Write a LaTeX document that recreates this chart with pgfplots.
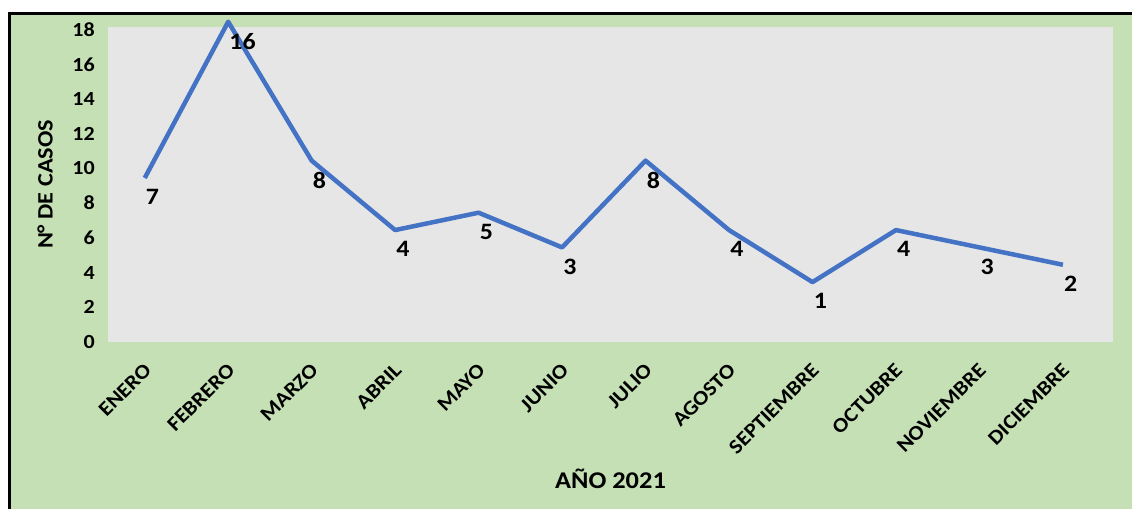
\documentclass[border=0pt]{standalone}
\usepackage{fontspec}
\setmainfont{Carlito}[FakeStretch=1.1]
\usepackage{pgfplots}
\pgfplotsset{compat=1.18}
\definecolor{fondo}{HTML}{C5E0B4}
\definecolor{area}{HTML}{E6E6E6}
\definecolor{linea}{HTML}{4472C4}
\begin{document}
\begin{tikzpicture}
\useasboundingbox (0pt,0pt) rectangle (1132pt,509pt);
\fill[white] (0pt,0pt) rectangle (1132pt,509pt);
\fill[fondo] (9pt,0pt) rectangle (1132pt,495.5pt);
\draw[line width=3pt] (9pt,0pt) -- (9pt,495.5pt) -- (1132pt,495.5pt);
\begin{axis}[
  at={(108pt,167pt)}, anchor=south west,
  scale only axis, width=1005pt, height=315pt,
  xmin=-0.44, xmax=11.6, ymin=0, ymax=18.15,
  axis background/.style={fill=area},
  axis line style={draw=none},
  major tick length=0pt,
  clip=false,
  xtick={0,...,11},
  xticklabels={ENERO,FEBRERO,MARZO,ABRIL,MAYO,JUNIO,JULIO,AGOSTO,SEPTIEMBRE,OCTUBRE,NOVIEMBRE,DICIEMBRE},
  ytick={0,2,...,18},
  /pgf/number format/assume math mode=true,
  yticklabel style={anchor=east, inner sep=0pt, xshift=-13pt, font=\bfseries\fontsize{20}{20}\selectfont},
  xticklabel style={xshift=3pt, yshift=-25pt, rotate=45, anchor=east, inner sep=0pt, font=\bfseries\fontsize{20.5}{20.5}\selectfont},
  xlabel={AÑO 2021},
  ylabel={N° DE CASOS},
  xlabel style={at={(axis description cs:0.5,-0.435)}, anchor=center, font=\bfseries\fontsize{24}{24}\selectfont},
  ylabel style={at={(axis description cs:-0.0627,0.5)}, anchor=center, font=\bfseries\fontsize{22}{22}\selectfont},
]
\addplot[linea, line width=4.5pt, line join=round,
  nodes near coords, point meta=explicit symbolic,
  nodes near coords style={anchor=north west, inner sep=0pt, xshift=-1pt, yshift=-9pt, text=black, font=\bfseries\fontsize{23.5}{23.5}\selectfont}]
  coordinates {
  (0,9.45)[7] (1,18.45)[16] (2,10.45)[8] (3,6.45)[4] (4,7.45)[5] (5,5.45)[3]
  (6,10.45)[8] (7,6.45)[4] (8,3.45)[1] (9,6.45)[4] (10,5.45)[3] (11,4.45)[2]
  };
\end{axis}
\end{tikzpicture}
\end{document}
